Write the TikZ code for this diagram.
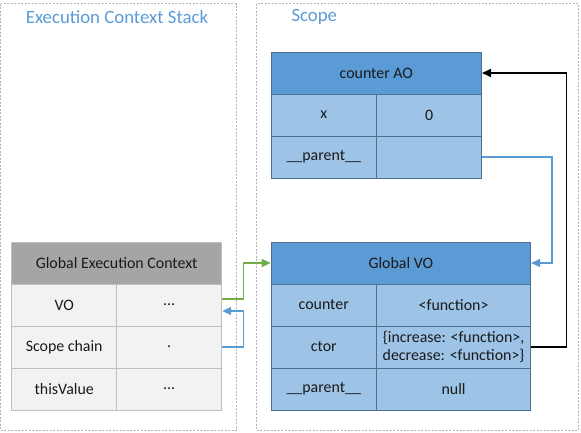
\documentclass[tikz,border=0pt]{standalone}
\usepackage{fontspec}
\setmainfont{Carlito}
\usetikzlibrary{arrows.meta}
\definecolor{aohead}{HTML}{5B9BD5}
\definecolor{aocell}{HTML}{9DC3E6}
\definecolor{aoline}{HTML}{4F6F8F}
\definecolor{gechead}{HTML}{A5A5A5}
\definecolor{geccell}{HTML}{F2F2F2}
\definecolor{gecline}{HTML}{BFBFBF}
\definecolor{frameline}{HTML}{B4B4B4}
\definecolor{linkgreen}{HTML}{70AD47}
\definecolor{cellink}{HTML}{1A1A1A}

\begin{document}
\begin{tikzpicture}[x = 1pt, y = -1pt,
                      frame/.style = {draw = frameline, line width = 0.9pt, dash pattern = on 2pt off 1.5pt},
                      title/.style = {text = aohead, font = \fontsize{18.8}{22}\selectfont},
                      cell/.style = {rectangle, inner sep = 0pt, minimum height = 42pt, text = cellink, font = \fontsize{15.9}{18.3}\selectfont, align = center},
                      blue head/.style = {cell, draw = aoline, fill = aohead, line width = 0.6pt},
                      blue cell/.style = {cell, draw = aoline, fill = aocell, line width = 0.6pt},
                      grey head/.style = {cell, draw = gecline, fill = gechead, line width = 1pt},
                      grey cell/.style = {cell, draw = gecline, fill = geccell, line width = 1pt},
                      link/.style = {line width = 1.3pt, -{Triangle[length = 9pt, width = 8pt]}}]
    \useasboundingbox (0, 0) rectangle (581, 432);
    % two frames
    \draw [frame] (0.6, 3.5) rectangle (236, 430.5);
    \draw [frame] (256.7, 3.5) rectangle (578.5, 430.5);
    \node [title] (stacktitle) at (117, 17) {Execution Context Stack};
    \node [title, anchor = west] (scopetitle) at (288, 17) {Scope};
    % counter AO
    \node [blue head, minimum width = 210.7pt] (ao) at (376.35, 73) {counter AO};
    \node [blue cell, minimum width = 105.5pt] (aox) at (323.75, 115) {x};
    \node [blue cell, minimum width = 105.2pt] (aoxval) at (429.1, 115) {0};
    \node [blue cell, minimum width = 105.5pt] (aoparent) at (323.75, 157) {\_\_parent\_\_};
    \node [blue cell, minimum width = 105.2pt] (aoparentval) at (429.1, 157) {};
    % global execution context
    \node [grey head, minimum width = 210pt] (gec) at (116.7, 263) {Global Execution Context};
    \node [grey cell, minimum width = 105pt] (gecvo) at (64.2, 305) {VO};
    \node [grey cell, minimum width = 105pt] (gecvoval) at (169.2, 305) {...};
    \node [grey cell, minimum width = 105pt] (gecscope) at (64.2, 347) {Scope chain};
    \node [grey cell, minimum width = 105pt] (gecscopeval) at (169.2, 347) {.};
    \node [grey cell, minimum width = 105pt] (gecthis) at (64.2, 389) {thisValue};
    \node [grey cell, minimum width = 105pt] (gecthisval) at (169.2, 389) {...};
    % global VO
    \node [blue head, minimum width = 259.7pt] (gvo) at (400.85, 263) {Global VO};
    \node [blue cell, minimum width = 105.5pt] (gvocounter) at (323.75, 305) {counter};
    \node [blue cell, minimum width = 154.2pt] (gvocounterval) at (453.6, 305) {<function>};
    \node [blue cell, minimum width = 105.5pt] (gvoctor) at (323.75, 347) {ctor};
    \node [blue cell, minimum width = 154.2pt] (gvoctorval) at (453.6, 347) {\{increase: <function>,\\ decrease: <function>\}};
    \node [blue cell, minimum width = 105.5pt] (gvoparent) at (323.75, 389) {\_\_parent\_\_};
    \node [blue cell, minimum width = 154.2pt] (gvoparentval) at (453.6, 389) {null};
    % links
    \draw [link, linkgreen] ([yshift = 6pt]gecvoval.east) -- ++(21.5, 0) |- (gvo.west);
    \draw [link, aohead] (gecscopeval.east) -- ++(21.5, 0) |- ([yshift = -6pt]gecvoval.east);
    \draw [link, aohead] (aoparentval.east) -- ++(70, 0) |- (gvo.east);
    \draw [link, black, line width = 1.6pt] (gvoctorval.east) -- ++(35.5, 0) |- (ao.east);
\end{tikzpicture}
\end{document}
